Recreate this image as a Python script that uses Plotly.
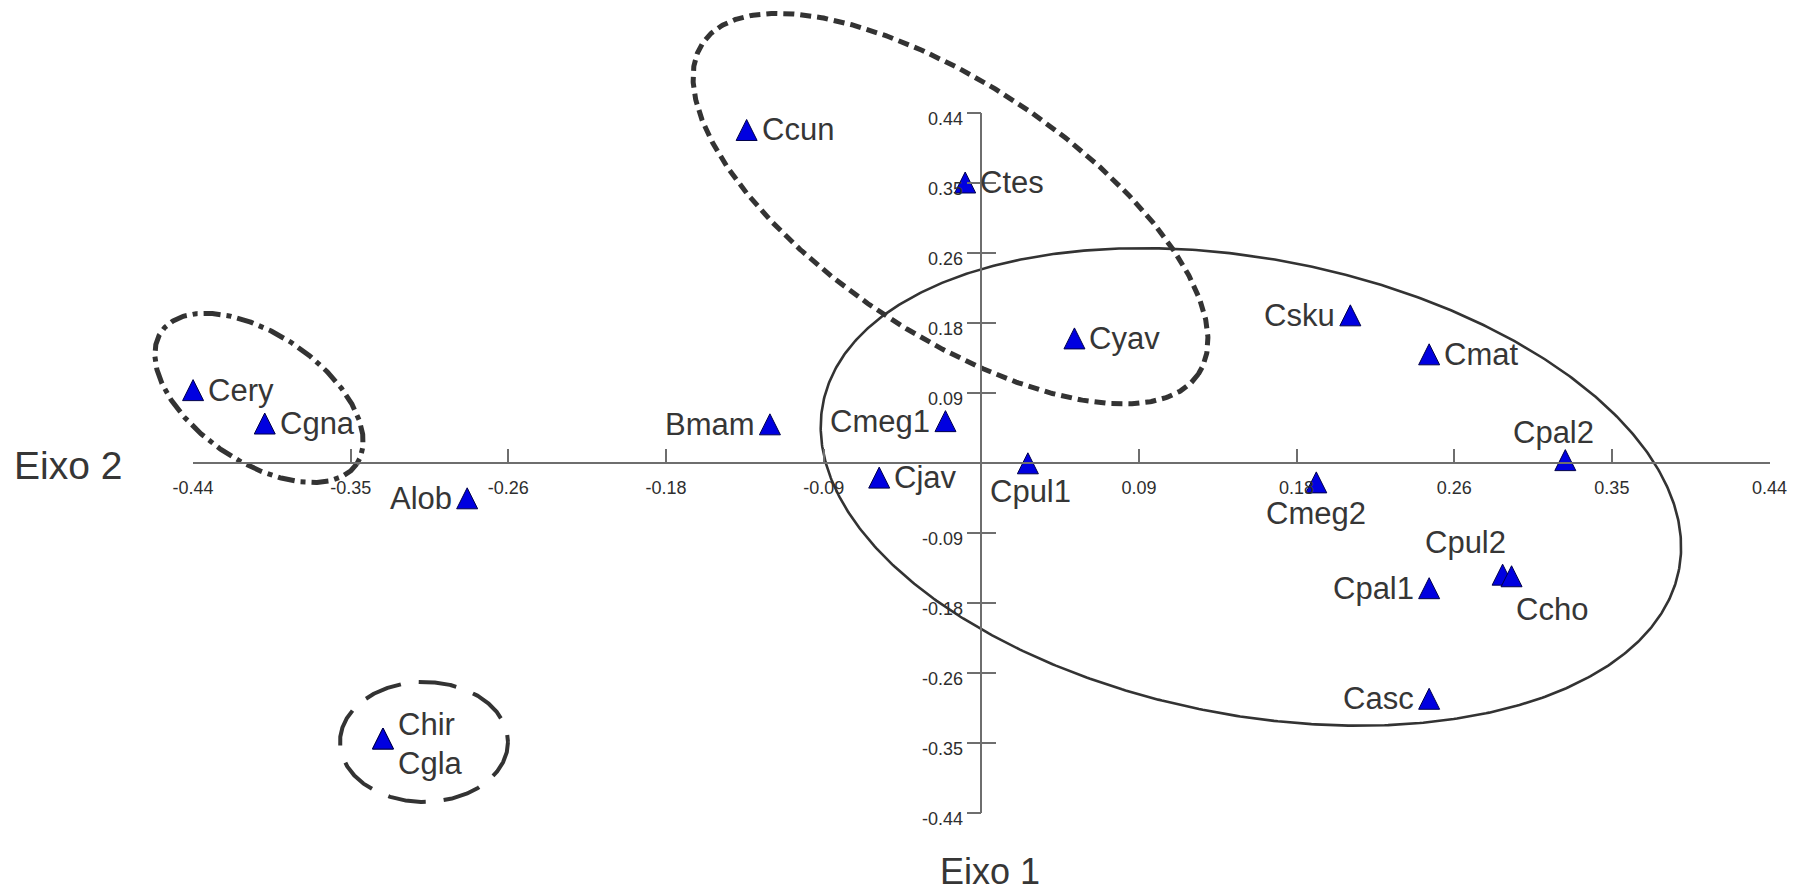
import numpy as np
import plotly.graph_objects as go

# ---------------- data ----------------
species = ["Ccun", "Ctes", "Cyav", "Csku", "Cmat", "Cery", "Cgna", "Bmam", "Cmeg1", "Cpal2",
           "Cjav", "Cpul1", "Cmeg2", "Alob", "Cpul2", "Ccho", "Cpal1", "Casc", "Chir", "Cgla"]
eixo2 = [-0.131, -0.009, 0.052, 0.206, 0.250, -0.440, -0.400, -0.118, -0.020, 0.326,
         -0.057, 0.026, 0.187, -0.287, 0.291, 0.296, 0.250, 0.250, -0.334, -0.334]
eixo1 = [0.419, 0.353, 0.157, 0.186, 0.137, 0.092, 0.050, 0.049, 0.053, 0.004,
         -0.018, 0.000, -0.024, -0.044, -0.140, -0.142, -0.157, -0.296, -0.346, -0.346]
label_place = ["r", "r", "r", "l", "r", "r", "r", "l", "l", "a",
               "r", "b", "b2", "l", "al", "br", "l", "l", "ru", "rd"]

tick_vals = [-0.44, -0.352, -0.264, -0.176, -0.088, 0.088, 0.176, 0.264, 0.352, 0.44]
tick_text = ["-0.44", "-0.35", "-0.26", "-0.18", "-0.09", "0.09", "0.18", "0.26", "0.35", "0.44"]

# group ellipses: centre in data units, semi-axes in px, tilt in degrees (screen, clockwise)
groups = [
    dict(cx=0.1505, cy=-0.0297, a=436, b=228, ang=11.0, dash="solid", width=2.6),
    dict(cx=-0.0172, cy=0.3201, a=298, b=125, ang=33.7, dash="11px,6px", width=5),
    dict(cx=-0.4032, cy=0.0822, a=118, b=64, ang=34.0, dash="17px,6px,5px,6px", width=5),
    dict(cx=-0.3111, cy=-0.3503, a=84, b=60, ang=0.0, dash="38px,18px", width=4),
]

# ---------------- geometry ----------------
W, H = 1798, 892
OX, OY = 981.3, 463.3      # pixel position of the origin
SX, SY = 1791.4, 795.5     # px per unit
LIM = 0.44
xr = [-OX / SX, (W - OX) / SX]
yr = [-(H - OY) / SY, OY / SY]
xdom = [(OX - LIM * SX) / W, (OX + LIM * SX) / W]
ydom = [(H - OY - LIM * SY) / H, (H - OY + LIM * SY) / H]
xpos = (H - OY) / H
ypos = OX / W

FONT = "Liberation Sans, Arial, sans-serif"
TXT = "#363636"
AX = "#6e6e6e"

fig = go.Figure()

# dummy traces to create the crossing axes (drawn first, underneath)
fig.add_trace(go.Scatter(x=[0], y=[0], xaxis="x2", yaxis="y2", mode="markers",
                         marker=dict(opacity=0), hoverinfo="skip", showlegend=False))
fig.add_trace(go.Scatter(x=[0], y=[0], xaxis="x2", yaxis="y3", mode="markers",
                         marker=dict(opacity=0), hoverinfo="skip", showlegend=False))

# ellipses
t = np.linspace(0, 2 * np.pi, 720)
for g in groups:
    th = np.deg2rad(g["ang"])
    dxp = g["a"] * np.cos(t) * np.cos(th) - g["b"] * np.sin(t) * np.sin(th)
    dyp = g["a"] * np.cos(t) * np.sin(th) + g["b"] * np.sin(t) * np.cos(th)
    fig.add_trace(go.Scatter(
        x=g["cx"] + dxp / SX, y=g["cy"] - dyp / SY, mode="lines",
        line=dict(color="#333333", width=g["width"], dash=g["dash"]),
        hoverinfo="skip", showlegend=False))

# points
fig.add_trace(go.Scatter(
    x=eixo2, y=eixo1, mode="markers",
    marker=dict(symbol="arrow-down", angle=180, standoff=10.5, size=21,
                color="#0000E0", line=dict(color="#00004a", width=1)),
    hoverinfo="skip", showlegend=False))

# labels
place = {
    "r": ("left", 13, 0),
    "l": ("right", -13, 0),
    "a": ("center", -12, 28),
    "b": ("center", 3, -28),
    "b2": ("center", 0, -31),
    "al": ("center", -37, 32),
    "br": ("center", 40, -33),
    "ru": ("left", 13, 14),
    "rd": ("left", 13, -25),
}
ann = []
for name, xv, yv, p in zip(species, eixo2, eixo1, label_place):
    xa, xs, ys = place[p]
    ann.append(dict(x=xv, y=yv, xref="x", yref="y", text=name, showarrow=False,
                    xanchor=xa, yanchor="middle", xshift=xs, yshift=ys,
                    font=dict(family=FONT, size=31, color=TXT)))
ann.append(dict(x=-LIM, y=0, xref="x", yref="y", text="Eixo 2", showarrow=False,
                xanchor="right", yanchor="middle", xshift=-69, yshift=-2,
                font=dict(family=FONT, size=39, color=TXT)))
ann.append(dict(x=0, y=-LIM, xref="x", yref="y", text="Eixo 1", showarrow=False,
                xanchor="center", yanchor="middle", xshift=9, yshift=-58,
                font=dict(family=FONT, size=36, color=TXT)))

tickfont = dict(family=FONT, size=18, color="#2e2e2e")
fig.update_layout(
    width=W, height=H, margin=dict(l=0, r=0, t=0, b=0, autoexpand=False),
    paper_bgcolor="white", plot_bgcolor="rgba(0,0,0,0)", hovermode=False,
    xaxis=dict(domain=[0, 1], range=xr, visible=False, fixedrange=True, automargin=False),
    yaxis=dict(domain=[0, 1], range=yr, visible=False, fixedrange=True, automargin=False),
    xaxis2=dict(domain=xdom, range=[-LIM, LIM], anchor="free", position=xpos,
                showline=True, linecolor=AX, linewidth=1.5, showgrid=False, zeroline=False,
                ticks="inside", ticklen=14, tickwidth=1.5, tickcolor=AX,
                tickmode="array", tickvals=tick_vals, ticktext=tick_text, tickfont=tickfont,
                ticklabelstandoff=8, fixedrange=True, automargin=False),
    yaxis2=dict(domain=ydom, range=[-LIM, LIM], anchor="free", position=ypos,
                showline=True, linecolor=AX, linewidth=1.5, showgrid=False, zeroline=False,
                ticks="outside", ticklen=14, tickwidth=1.5, tickcolor=AX,
                tickmode="array", tickvals=tick_vals, ticktext=tick_text, tickfont=tickfont,
                ticklabelshift=5, fixedrange=True, automargin=False),
    yaxis3=dict(overlaying="y2", range=[-LIM, LIM], anchor="free", position=ypos,
                showline=False, showgrid=False, zeroline=False,
                ticks="inside", ticklen=14, tickwidth=1.5, tickcolor=AX,
                tickmode="array", tickvals=tick_vals, showticklabels=False,
                fixedrange=True, automargin=False),
    annotations=ann,
)

fig.write_html("out.html", config={"displayModeBar": False},
               post_script="document.body.style.margin='0px';")
